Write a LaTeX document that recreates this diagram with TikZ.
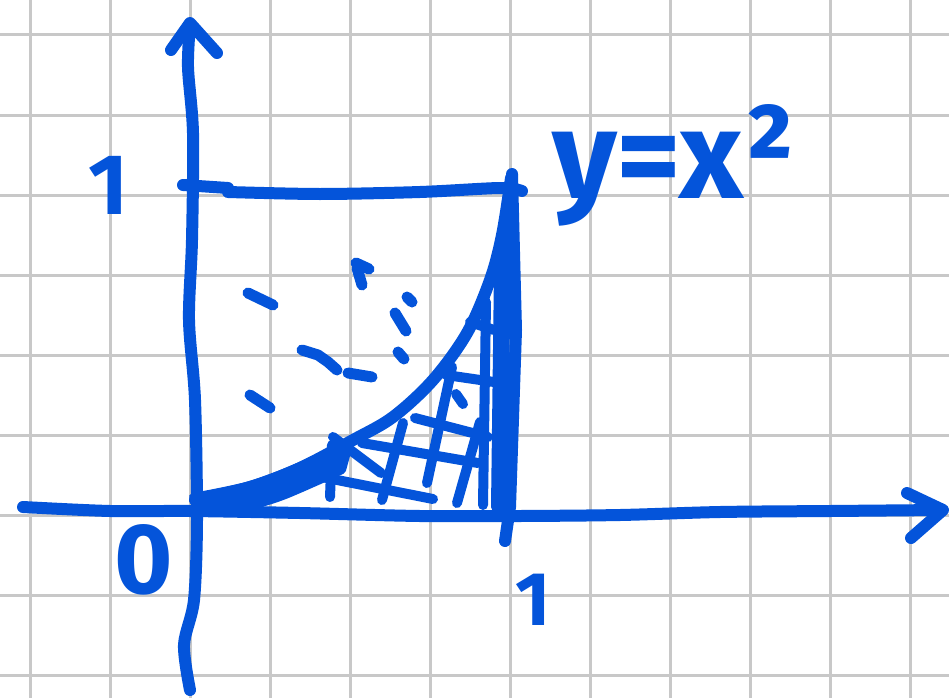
\documentclass[tikz,border=0pt]{standalone}
\usepackage{fontspec}
\setmainfont{Fira Sans}
\definecolor{inkblue}{RGB}{4,84,218}
\definecolor{gridgray}{RGB}{200,200,200}
\tikzset{
  ink/.style={draw=inkblue, line width=12pt, line cap=round, line join=round},
  hatchline/.style={draw=inkblue, line width=10pt, line cap=round, line join=round},
  dashmark/.style={draw=inkblue, line width=11pt, line cap=round, line join=round},
  gridline/.style={draw=gridgray, line width=3pt},
  lbl/.style={text=inkblue, inner sep=0pt, font=\bfseries}
}
\begin{document}
\begin{tikzpicture}[x=1pt,y=-1pt]
\useasboundingbox (0,0) rectangle (949,698);
\fill[white] (0,0) rectangle (949,698);
% grid paper
\foreach \gx in {30,110,...,910} \draw[gridline] (\gx,0) -- (\gx,698);
\foreach \gy in {35,115,...,675} \draw[gridline] (0,\gy) -- (949,\gy);

% axes
\draw[ink] plot[smooth, tension=0.5] coordinates {(190,690) (184,645) (194,600) (197,520) (195,400) (189,320) (192,240) (193,133) (188,67) (190,24)};
\draw[ink] (171,50) -- (190,23) -- (217,53);
\draw[ink] plot[smooth, tension=0.5] coordinates {(23,507) (110,511) (190,511) (300,513) (420,516) (520,516) (620,515) (720,512) (830,511) (941,510)};
\draw[ink] (907,493) -- (943,510) -- (911,538);

% square top and right side
\draw[ink] (183,185) -- (228,188);
\draw[ink] plot[smooth, tension=0.5] coordinates {(228,192) (320,194) (420,192) (500,188) (522,191)};
\draw[ink] (512,174) -- (516,330) -- (510,507) -- (505,541);
\draw[hatchline] (507,200) -- (502,508);
\draw[hatchline] (499,270) -- (496,507);

% thick band near the origin
\filldraw[inkblue, line width=8pt, line join=round]
  plot[smooth, tension=0.5] coordinates {(193,497) (250,485) (300,466) (350,441)}
  -- plot[smooth, tension=0.5] coordinates {(342,470) (320,480) (280,497) (247,506) (200,509)} -- cycle;

% curve y = x^2
\draw[ink] plot[smooth, tension=0.55] coordinates {(195,500) (250,487) (300,468) (353,440) (393,417) (433,380) (467,333) (490,280) (502,235) (511,178)};

% hatching
\draw[hatchline] (403,423) -- (382,500);
\draw[hatchline] (452,367) -- (427,483);
\draw[hatchline] (480,422) -- (457,503);
\draw[hatchline] (486,302) -- (483,505);
\draw[hatchline] (332,445) -- (330,497);
\draw[hatchline] (333,437) -- (381,473);
\draw[hatchline] (322,477) -- (433,499);
\draw[hatchline] (362,443) -- (478,463);
\draw[hatchline] (415,418) -- (488,437);
\draw[hatchline] (446,375) -- (494,382);
\draw[hatchline] (470,322) -- (494,330);
\draw[hatchline] (456,394) -- (463,404);

% dashes in the upper region
\draw[dashmark] (248,293) -- (273,305);
\draw[dashmark] (250,395) -- (270,408);
\draw[dashmark] (302,350) -- (318,355) -- (328,362) -- (337,370);
\draw[dashmark] (348,373) -- (372,377);
\draw[dashmark] (356,263) -- (369,269);
\draw[dashmark] (357,268) -- (362,285);
\draw[dashmark] (407,297) -- (412,302);
\draw[dashmark] (395,313) -- (406,331);
\draw[dashmark] (398,352) -- (404,359);

% labels
\node[lbl, anchor=base west, font=\bfseries\fontsize{125}{125}\selectfont] (eq) at (552,198) {y=x²};
\node[lbl, font=\bfseries\fontsize{100}{100}\selectfont] (zero) at (144,560) {0};
\node[lbl, font=\bfseries\fontsize{86}{86}\selectfont] (oney) at (108,185) {1};
\node[lbl, font=\bfseries\fontsize{76}{76}\selectfont] (onex) at (533,600) {1};
\end{tikzpicture}
\end{document}
